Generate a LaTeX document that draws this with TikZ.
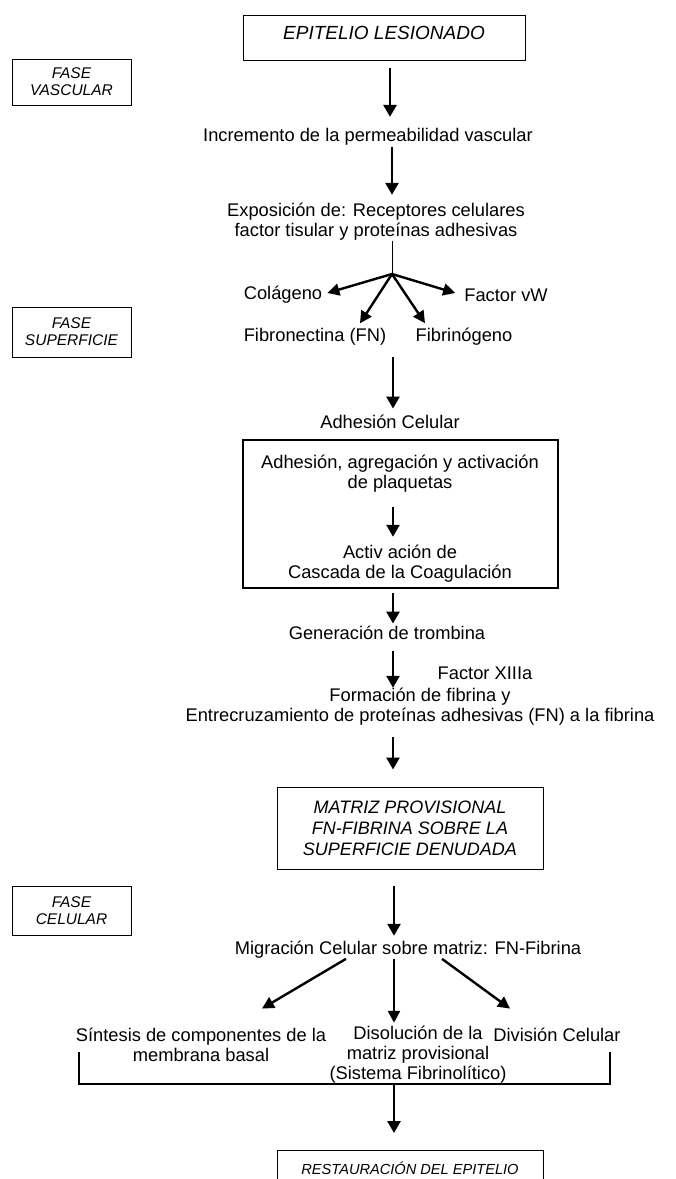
\documentclass[tikz,border=0pt]{standalone}
\usepackage{fontspec}
\setmainfont{Liberation Sans}
\usetikzlibrary{arrows.meta}
\begin{document}
\begin{tikzpicture}[x=1pt,y=-1pt,
  txt/.style={font=\fontsize{18.3}{20}\selectfont, align=center, inner sep=0pt},
  arr/.style={line width=2.7pt, -{Triangle[length=12pt,width=13pt]}},
  barr/.style={line width=2.4pt, -{Triangle[length=12pt,width=12pt]}},
  phase/.style={draw, line width=0.9pt, minimum width=119pt, align=center, inner sep=0pt, font=\fontsize{15.5}{17}\selectfont\itshape},
  mainbox/.style={draw, line width=1pt, align=center, inner sep=0pt}
]
\useasboundingbox (0,0) rectangle (676,1179);
\clip (0,0) rectangle (676,1179);
\coordinate (c390) at (390,0);
\coordinate (c392) at (392,0);
\coordinate (c393) at (393,0);
\coordinate (c394) at (394,0);

% nodes
\node[mainbox, minimum width=282pt, minimum height=45pt, text depth=9pt, font=\fontsize{19}{21}\selectfont\itshape] (epi) at (384,37.5) {EPITELIO LESIONADO};
\node[phase, minimum height=46pt] (fv) at (71.5,82) {FASE\\VASCULAR};
\node[txt] (incr) at (368,137) {Incremento de la permeabilidad vascular};
\node[txt] (expo) at (376,222) {Exposición de: Receptores celulares\\factor tisular y proteínas adhesivas};
\coordinate (br) at (392,274);
\node[txt] (colag) at (283,295) {Colágeno};
\node[txt] (fvw) at (506,295) {Factor vW};
\node[txt] (fibro) at (315,337) {Fibronectina (FN)};
\node[txt] (fibrin) at (464,337) {Fibrinógeno};
\node[phase, minimum height=50pt] (fs) at (71.5,332) {FASE\\SUPERFICIE};
\node[txt] (adh) at (390,422) {Adhesión Celular};
\node[draw, line width=1.8pt, minimum width=315pt, minimum height=148pt, inner sep=0pt] (big) at (400.5,514) {};
\node[txt] (plaq) at (400,474) {Adhesión, agregación y activación\\de plaquetas};
\node[txt] (casc) at (400,563.5) {Activ ación de\\Cascada de la Coagulación};
\node[txt] (gen) at (387,633) {Generación de trombina};
\node[txt] (f13) at (485,673) {Factor XIIIa};
\node[txt] (form) at (420,707) {Formación de fibrina y\\Entrecruzamiento de proteínas adhesivas (FN) a la fibrina};
\node[mainbox, minimum width=266pt, minimum height=82pt, font=\fontsize{18}{21}\selectfont\itshape] (mat) at (410,828) {MATRIZ PROVISIONAL\\FN-FIBRINA SOBRE LA\\SUPERFICIE DENUDADA};
\node[phase, minimum height=49pt] (fc) at (71.5,910.5) {FASE\\CELULAR};
\node[txt] (migr) at (408,950) {Migración Celular sobre matriz: FN-Fibrina};
\node[txt] (sint) at (201,1045) {Síntesis de componentes de la\\membrana basal};
\node[txt] (diso) at (418,1055) {Disolución de la\\matriz provisional\\(Sistema Fibrinolítico)};
\node[txt] (divc) at (557,1035) {División Celular};
\node[mainbox, anchor=north, minimum width=266pt, minimum height=36pt, font=\fontsize{14.6}{17}\selectfont\itshape] (rest) at (410,1150) {RESTAURACIÓN DEL EPITELIO};

% connectors
\draw[arr, shorten <=7pt, shorten >=11.4pt] (epi.south -| c390) -- (incr.north -| c390);
\draw[arr, shorten <=1.4pt, shorten >=8.4pt] (incr.south -| c392) -- (expo.north -| c392);
\draw[line width=0.8pt] (expo.south -| br) -- (br);
\draw[barr] (br) -- ([xshift=5pt,yshift=2pt]colag.east);
\draw[barr] (br) -- ([xshift=-9pt,yshift=2pt]fvw.west);
\draw[barr] (br) -- ([xshift=45pt,yshift=5pt]fibro.north);
\draw[barr] (br) -- ([xshift=-39pt,yshift=5pt]fibrin.north);
\draw[arr, shorten <=11.4pt, shorten >=6.4pt] (fibro.south -| c393) -- (adh.north -| c393);
\draw[arr, shorten <=14.4pt, shorten >=7.9pt] (plaq.south -| c393) -- (casc.north -| c393);
\draw[arr, shorten <=4pt, shorten >=2.4pt] (big.south -| c393) -- (gen.north -| c393);
\draw[arr, shorten <=11.4pt, shorten >=0.4pt] (gen.south -| c393) -- (form.north -| c393);
\draw[arr, shorten <=11.4pt, shorten >=17pt] (form.south -| c393) -- (mat.north -| c393);
\draw[arr, shorten <=16pt, shorten >=5.4pt] (mat.south -| c394) -- (migr.north -| c394);
\draw[barr] ([xshift=-62pt]migr.south) -- ([xshift=61pt,yshift=19.4pt]sint.north);
\draw[barr, shorten >=3.4pt] (migr.south -| c394) -- (diso.north -| c394);
\draw[barr] ([xshift=34pt]migr.south) -- ([xshift=-47pt,yshift=19.4pt]divc.north);
\coordinate (brL) at (79,1052);
\coordinate (brR) at (610,1052);
\coordinate (brM) at (394,1084);
\draw[line width=1.5pt] (brL) -- (brL |- brM) -- (brR |- brM) -- (brR);
\draw[arr, shorten >=17pt] (brM) -- (rest.north -| brM);
\end{tikzpicture}
\end{document}
